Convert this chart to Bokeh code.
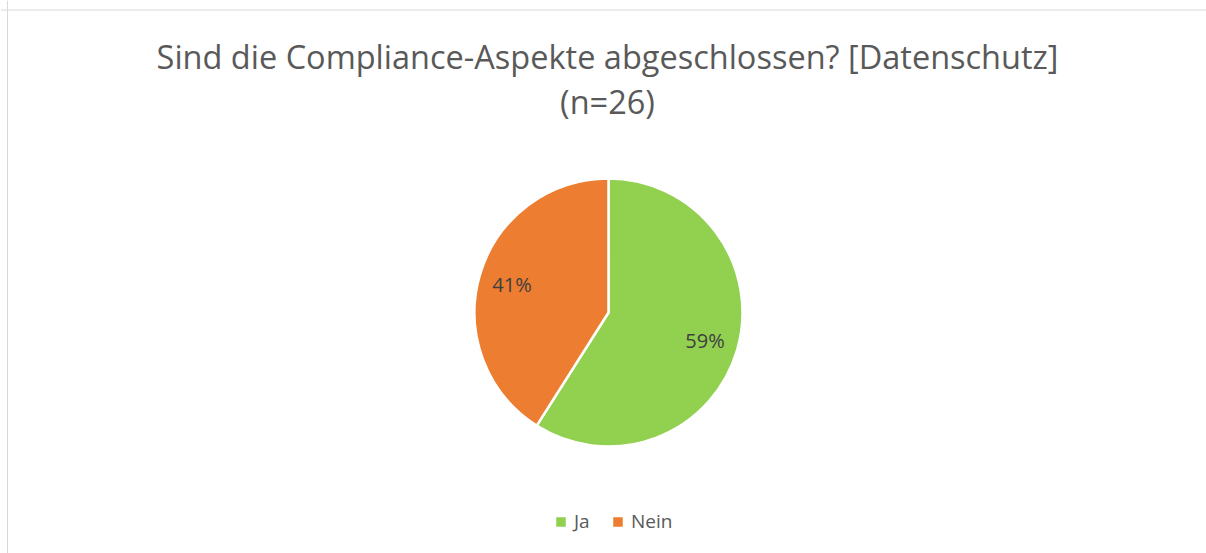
import math
from bokeh.plotting import figure
from bokeh.models import Range1d, Label, Span, Legend, LegendItem, ColumnDataSource
from bokeh.embed import file_html
from bokeh.resources import INLINE

categories = ["Ja", "Nein"]
shares = [59, 41]
colors = ["#92D050", "#ED7D31"]
title_lines = ["Sind die Compliance-Aspekte abgeschlossen? [Datenschutz]", "(n=26)"]

W, H = 1206, 553
FONT = "Open Sans"
cx, cy, R = 608, H - 312, 134

p = figure(width=W, height=H, output_backend="svg", toolbar_location=None,
           x_range=Range1d(0, W), y_range=Range1d(0, H), min_border=0)
p.axis.visible = False
p.grid.visible = False
p.outline_line_color = None
p.background_fill_color = "white"

p.add_layout(Span(location=H - 9.5, dimension="width", line_color="#D9D9D9", line_width=1))
p.add_layout(Span(location=7.0, dimension="height", line_color="#D9D9D9", line_width=1))

total = sum(shares)
starts, ends, mids = [], [], []
cum = 0
for s in shares:
    a0 = math.pi / 2 - 2 * math.pi * cum / total
    cum += s
    a1 = math.pi / 2 - 2 * math.pi * cum / total
    starts.append(a0)
    ends.append(a1)
    mids.append((a0 + a1) / 2)

items = []
for i, cat in enumerate(categories):
    src = ColumnDataSource(dict(x=[cx], y=[cy], s=[starts[i]], e=[ends[i]]))
    r = p.wedge(x="x", y="y", radius=R, start_angle="s", end_angle="e", direction="clock",
                fill_color=colors[i], line_color="white", line_width=2.5, source=src)
    items.append(LegendItem(label=cat, renderers=[r]))
    lx = cx + 0.75 * R * math.cos(mids[i])
    ly = cy + 0.75 * R * math.sin(mids[i])
    p.add_layout(Label(x=lx, y=ly, text=f"{shares[i]}%", text_align="center",
                       text_baseline="middle", text_font=FONT, text_font_size="20px",
                       text_color="#404040"))

p.add_layout(Label(x=607, y=H - 56, text=title_lines[0], text_align="center",
                   text_baseline="middle", text_font=FONT, text_font_size="32.5px",
                   text_color="#595959"))
p.add_layout(Label(x=607, y=H - 101, text=title_lines[1], text_align="center",
                   text_baseline="middle", text_font=FONT, text_font_size="32.5px",
                   text_color="#595959"))

legend = Legend(items=items, orientation="horizontal", location=(553, 19),
                glyph_width=15, glyph_height=15, label_height=20, label_standoff=6,
                spacing=16, padding=0, margin=0, border_line_color=None,
                background_fill_alpha=0, label_text_font=FONT,
                label_text_font_size="19px", label_text_color="#595959")
p.add_layout(legend)

open("out.html", "w").write(file_html(p, INLINE))
